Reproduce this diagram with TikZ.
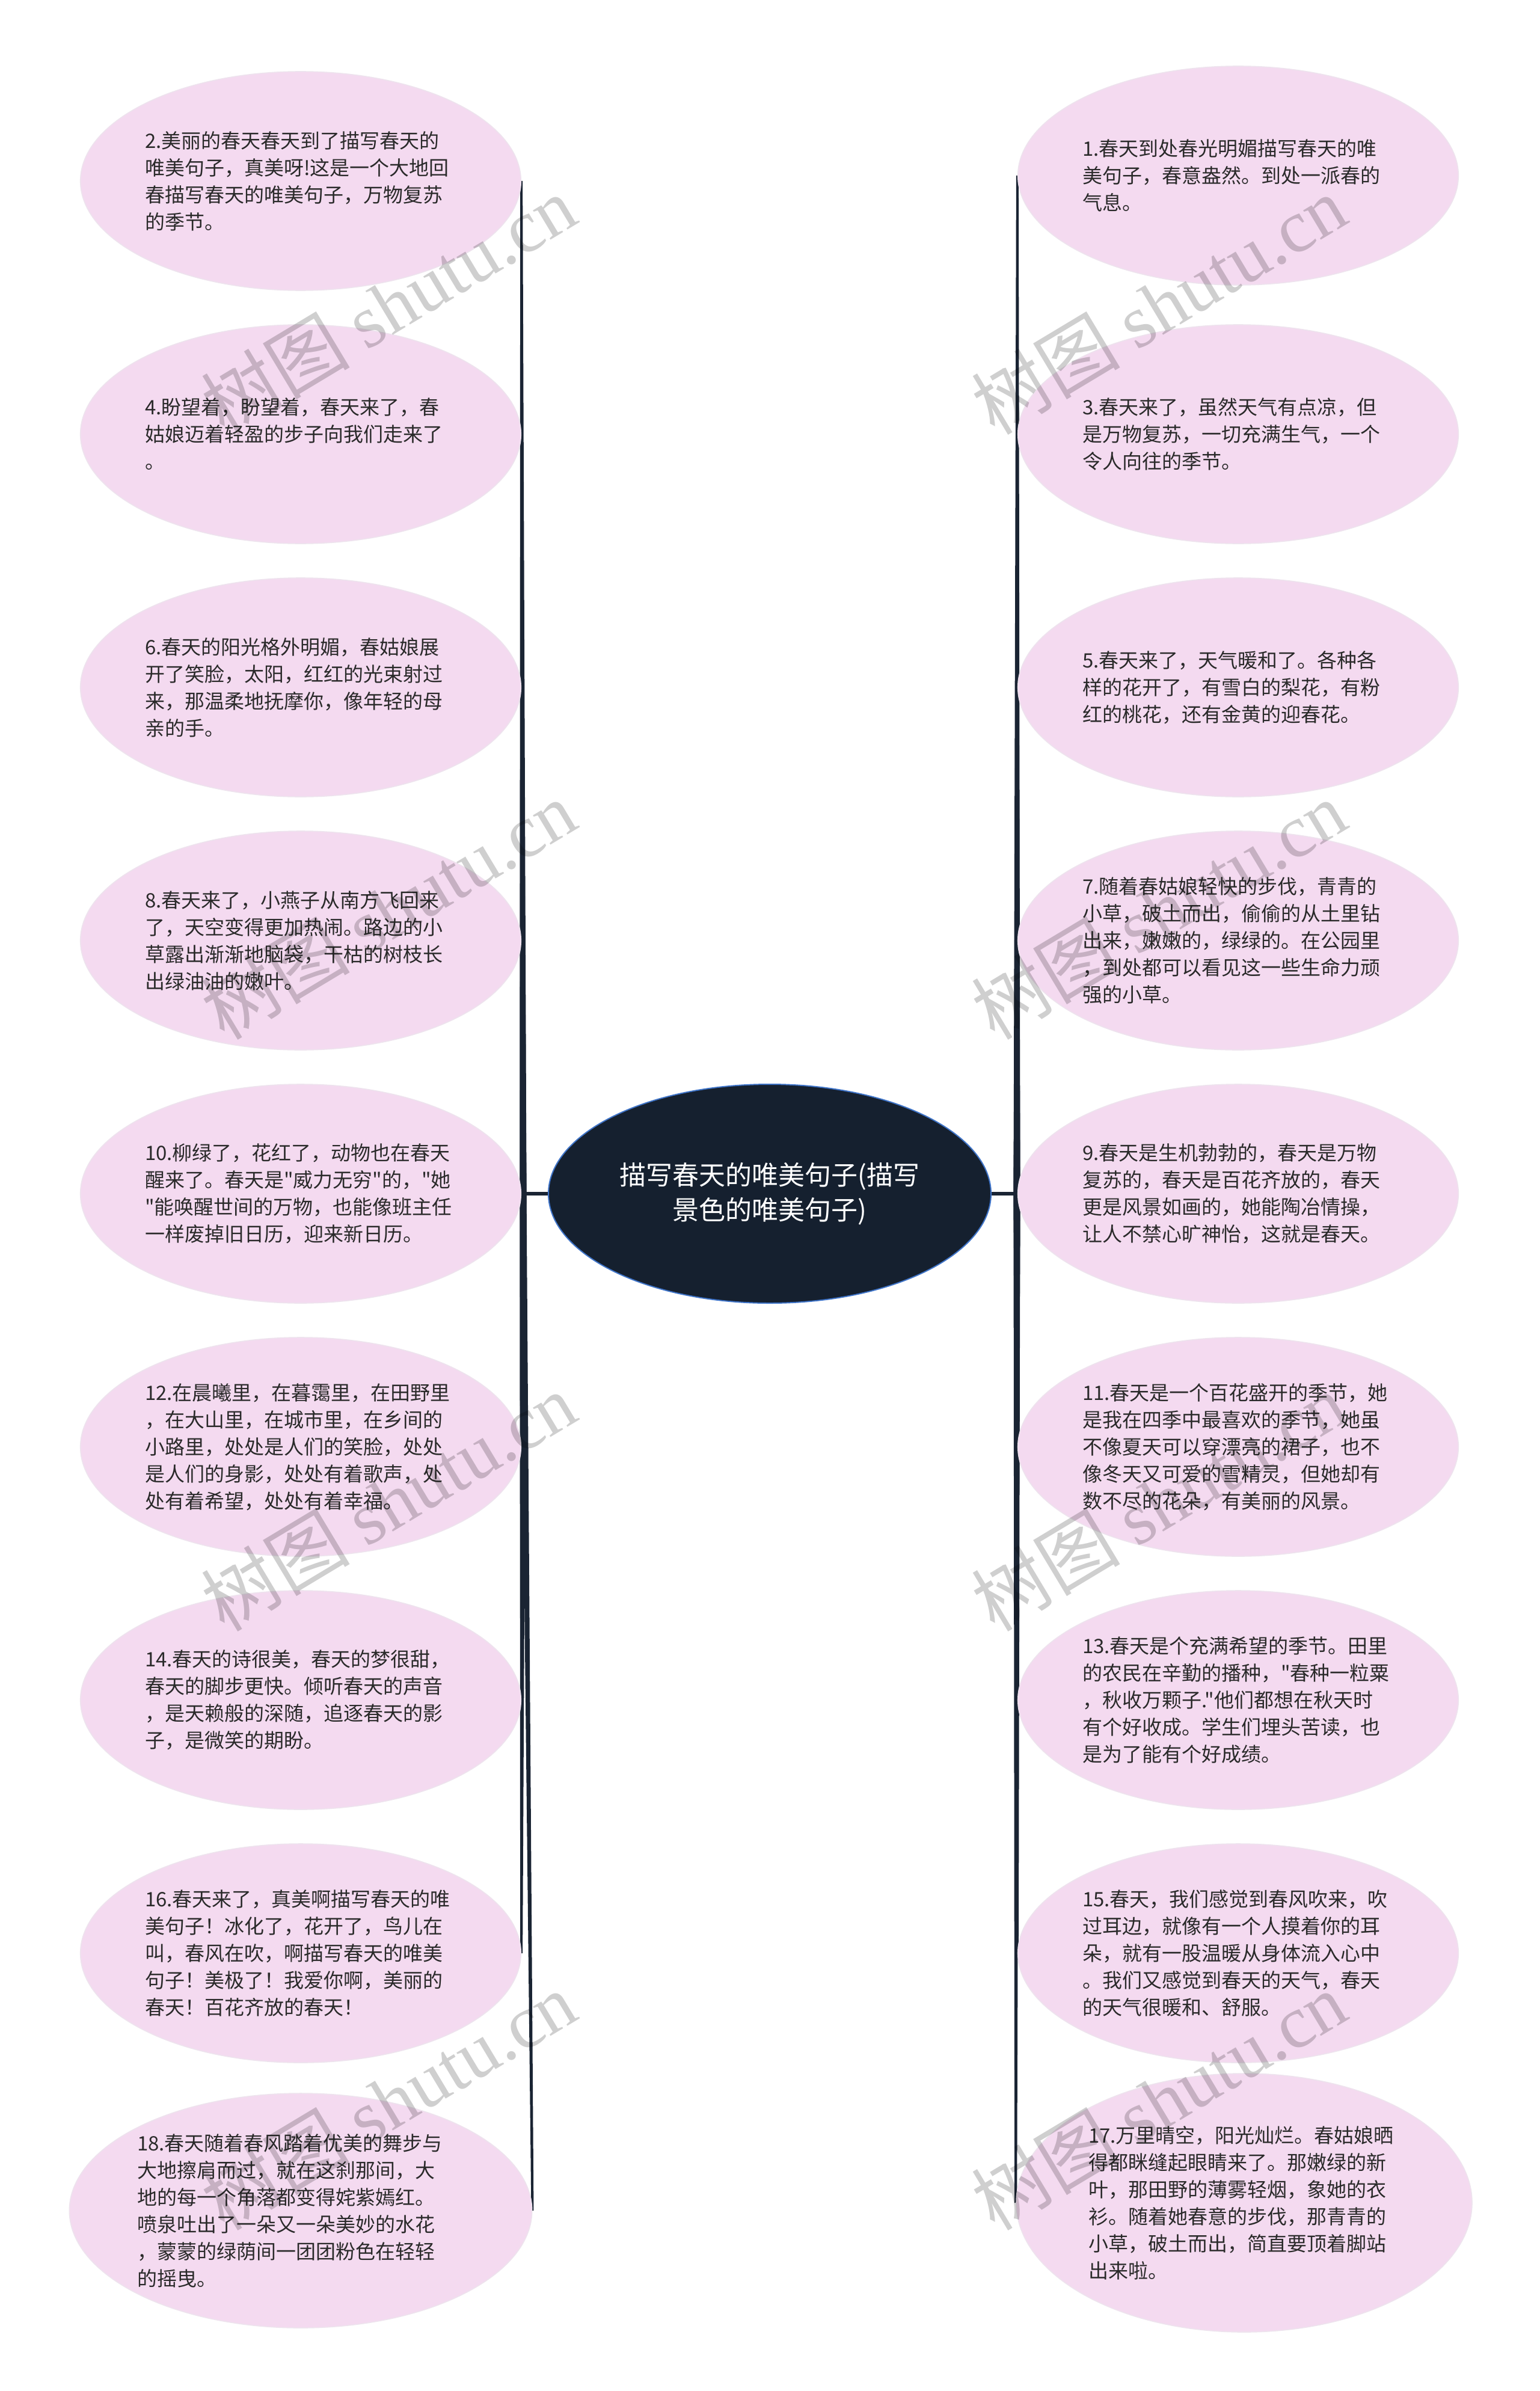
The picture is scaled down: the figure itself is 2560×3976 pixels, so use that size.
\documentclass[tikz,border=0pt]{standalone}
\usepackage{fontspec}
\setmainfont{Noto Sans CJK SC}[Ligatures=TeXOff]
\newfontfamily\wmserif{Liberation Serif}[Ligatures=TeXOff]
\usetikzlibrary{shapes.geometric,calc}
\definecolor{pinkfill}{HTML}{F4DAF0}
\definecolor{pinkrim}{HTML}{EEE3EE}
\definecolor{navy}{HTML}{15202F}
\definecolor{linkc}{HTML}{1A2433}
\definecolor{txt}{HTML}{2A2A2A}
\definecolor{rootrim}{HTML}{3F74C8}
\pgfdeclarelayer{bg}
\pgfsetlayers{bg,main}
\newcommand{\branch}[2]{\fill[linkc] ($(#1)+(-5.5,0)$) -- ($(#2)+(-2,0)$) -- ($(#2)+(2,0)$) -- ($(#1)+(5.5,0)$) -- cycle;}
\begin{document}
\begin{tikzpicture}[x=0.5pt,y=-0.5pt,
 leaf/.style={ellipse, fill=pinkfill, draw=pinkrim, line width=0.8pt, minimum width=362pt, minimum height=182pt, inner sep=0pt, align=left, text width=259pt, text=txt, font=\fontsize{16.5pt}{22.5pt}\selectfont},
 root/.style={ellipse, fill=navy, draw=rootrim, line width=1pt, minimum width=368pt, minimum height=182pt, inner sep=0pt, align=center, text=white, font=\fontsize{22pt}{29pt}\selectfont},
 wm/.style={rotate=31, text=black, opacity=0.19, font=\fontsize{62pt}{66pt}\selectfont},
 stub/.style={draw=linkc, line width=3pt}
]
\useasboundingbox (0,0) rectangle (2560,3976);

\node[root] (root) at (1280,1985) {描写春天的唯美句子(描写\\景色的唯美句子)};

% left column
\node[leaf] (n2) at (500,301) {2.美丽的春天春天到了描写春天的\\唯美句子，真美呀!这是一个大地回\\春描写春天的唯美句子，万物复苏\\的季节。};
\node[leaf] (n4) at (500,722) {4.盼望着，盼望着，春天来了，春\\姑娘迈着轻盈的步子向我们走来了\\。};
\node[leaf] (n6) at (500,1143) {6.春天的阳光格外明媚，春姑娘展\\开了笑脸，太阳，红红的光束射过\\来，那温柔地抚摩你，像年轻的母\\亲的手。};
\node[leaf] (n8) at (500,1564) {8.春天来了，小燕子从南方飞回来\\了，天空变得更加热闹。路边的小\\草露出渐渐地脑袋，干枯的树枝长\\出绿油油的嫩叶。};
\node[leaf] (n10) at (500,1985) {10.柳绿了，花红了，动物也在春天\\醒来了。春天是"威力无穷"的，"她\\"能唤醒世间的万物，也能像班主任\\一样废掉旧日历，迎来新日历。};
\node[leaf] (n12) at (500,2406) {12.在晨曦里，在暮霭里，在田野里\\，在大山里，在城市里，在乡间的\\小路里，处处是人们的笑脸，处处\\是人们的身影，处处有着歌声，处\\处有着希望，处处有着幸福。};
\node[leaf] (n14) at (500,2827) {14.春天的诗很美，春天的梦很甜，\\春天的脚步更快。倾听春天的声音\\，是天赖般的深随，追逐春天的影\\子，是微笑的期盼。};
\node[leaf] (n16) at (500,3248) {16.春天来了，真美啊描写春天的唯\\美句子！冰化了，花开了，鸟儿在\\叫，春风在吹，啊描写春天的唯美\\句子！美极了！我爱你啊，美丽的\\春天！百花齐放的春天！};
\node[leaf, minimum width=374pt, minimum height=195pt, text width=272pt] (n18) at (500,3676) {18.春天随着春风踏着优美的舞步与\\大地擦肩而过，就在这刹那间，大\\地的每一个角落都变得姹紫嫣红。\\喷泉吐出了一朵又一朵美妙的水花\\，蒙蒙的绿荫间一团团粉色在轻轻\\的摇曳。};

% right column
\node[leaf] (n1) at (2059,292) {1.春天到处春光明媚描写春天的唯\\美句子，春意盎然。到处一派春的\\气息。};
\node[leaf] (n3) at (2059,722) {3.春天来了，虽然天气有点凉，但\\是万物复苏，一切充满生气，一个\\令人向往的季节。};
\node[leaf] (n5) at (2059,1143) {5.春天来了，天气暖和了。各种各\\样的花开了，有雪白的梨花，有粉\\红的桃花，还有金黄的迎春花。};
\node[leaf] (n7) at (2059,1564) {7.随着春姑娘轻快的步伐，青青的\\小草，破土而出，偷偷的从土里钻\\出来，嫩嫩的，绿绿的。在公园里\\，到处都可以看见这一些生命力顽\\强的小草。};
\node[leaf] (n9) at (2059,1985) {9.春天是生机勃勃的，春天是万物\\复苏的，春天是百花齐放的，春天\\更是风景如画的，她能陶冶情操，\\让人不禁心旷神怡，这就是春天。};
\node[leaf] (n11) at (2059,2406) {11.春天是一个百花盛开的季节，她\\是我在四季中最喜欢的季节，她虽\\不像夏天可以穿漂亮的裙子，也不\\像冬天又可爱的雪精灵，但她却有\\数不尽的花朵，有美丽的风景。};
\node[leaf] (n13) at (2059,2827) {13.春天是个充满希望的季节。田里\\的农民在辛勤的播种，"春种一粒粟\\，秋收万颗子."他们都想在秋天时\\有个好收成。学生们埋头苦读，也\\是为了能有个好成绩。};
\node[leaf] (n15) at (2059,3248) {15.春天，我们感觉到春风吹来，吹\\过耳边，就像有一个人摸着你的耳\\朵，就有一股温暖从身体流入心中\\。我们又感觉到春天的天气，春天\\的天气很暖和、舒服。};
\node[leaf, minimum width=379pt, minimum height=215pt] (n17) at (2069,3663) {17.万里晴空，阳光灿烂。春姑娘晒\\得都眯缝起眼睛来了。那嫩绿的新\\叶，那田野的薄雾轻烟，象她的衣\\衫。随着她春意的步伐，那青青的\\小草，破土而出，简直要顶着脚站\\出来啦。};

\coordinate (lj) at (870,1985);
\coordinate (rj) at (1691,1985);

\begin{pgfonlayer}{bg}
\fill[white] (0,0) rectangle (2560,3976);
\draw[stub] (root.west) -- (n10.east);
\draw[stub] (root.east) -- (n9.west);
\branch{lj}{n2.east}
\branch{lj}{n4.east}
\branch{lj}{n6.east}
\branch{lj}{n8.east}
\branch{lj}{n12.east}
\branch{lj}{n14.east}
\branch{lj}{n16.east}
\branch{lj}{n18.east}
\branch{rj}{n1.west}
\branch{rj}{n3.west}
\branch{rj}{n5.west}
\branch{rj}{n7.west}
\branch{rj}{n11.west}
\branch{rj}{n13.west}
\branch{rj}{n15.west}
\branch{rj}{n17.west}
\end{pgfonlayer}

% watermarks
\node[wm] (w1) at (646,507) {树图 {\wmserif shutu.cn}};
\node[wm] (w2) at (1927,507) {树图 {\wmserif shutu.cn}};
\node[wm] (w3) at (646,1513) {树图 {\wmserif shutu.cn}};
\node[wm] (w4) at (1927,1513) {树图 {\wmserif shutu.cn}};
\node[wm] (w5) at (646,2497) {树图 {\wmserif shutu.cn}};
\node[wm] (w6) at (1927,2497) {树图 {\wmserif shutu.cn}};
\node[wm] (w7) at (646,3493) {树图 {\wmserif shutu.cn}};
\node[wm] (w8) at (1927,3493) {树图 {\wmserif shutu.cn}};
\end{tikzpicture}
\end{document}
